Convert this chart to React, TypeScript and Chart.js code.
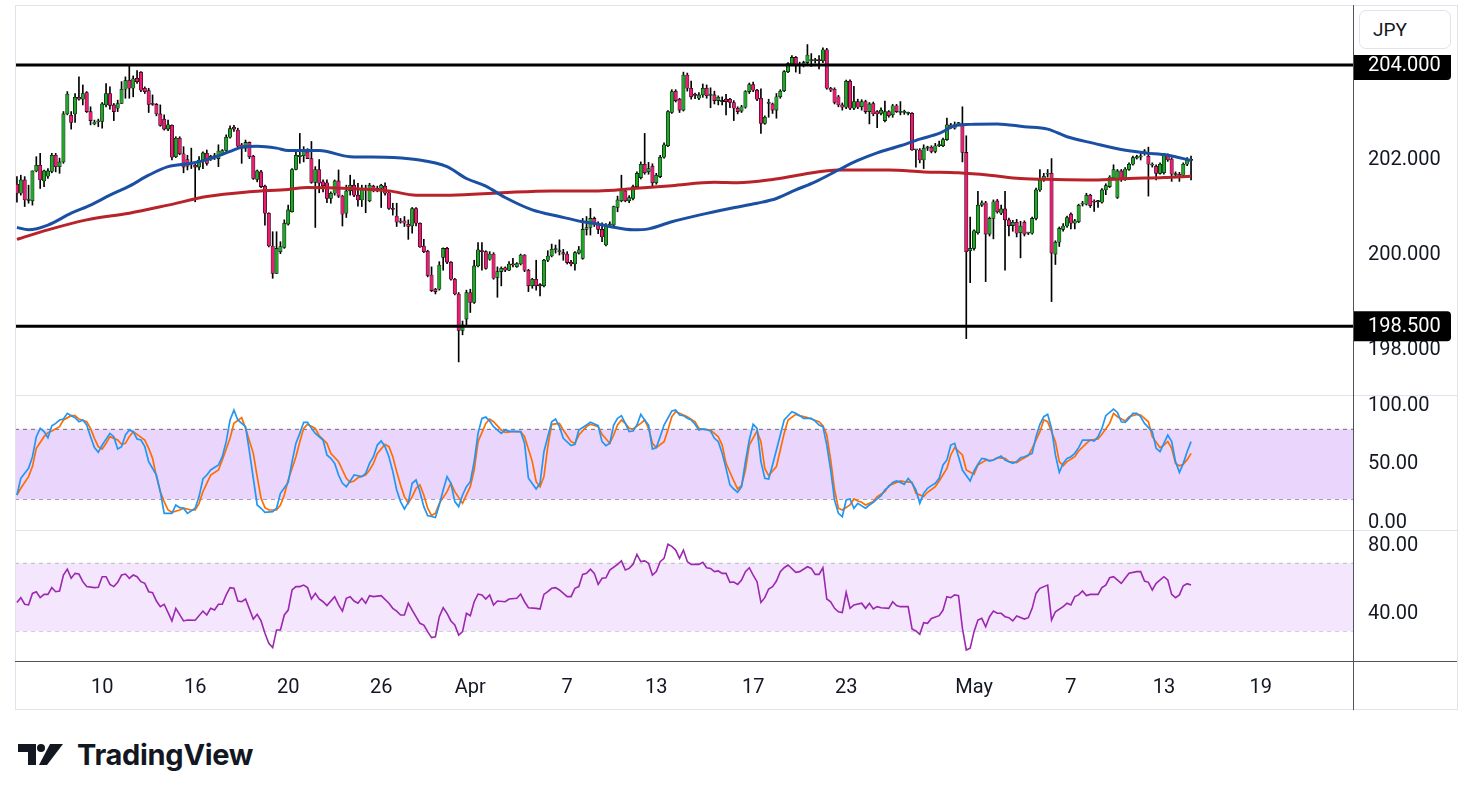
import React, { useEffect, useRef } from "react";
import { Chart, registerables } from "chart.js";

Chart.register(...registerables);
Chart.defaults.font.family = "Roboto";

// ---------- Price candles (4h) ----------
const opens = [
  201.49, 201.30, 201.58, 201.15, 201.14, 201.77, 201.89, 201.56, 201.66, 201.76,
  202.10, 201.86, 201.96, 202.97, 202.94, 202.97, 203.32, 203.28, 203.42, 203.02,
  202.76, 202.80, 202.81, 203.16, 203.40, 203.16, 203.09, 203.19, 203.49, 203.68,
  203.51, 203.72, 203.85, 203.51, 203.46, 203.18, 203.17, 202.97, 202.86, 202.65,
  202.73, 202.07, 202.46, 202.13, 202.01, 201.92, 201.89, 201.85, 202.00, 202.14,
  202.03, 202.07, 202.03, 202.14, 202.20, 202.48, 202.69, 202.63, 202.32, 202.25,
  202.37, 202.08, 201.59, 201.75, 201.45, 200.88, 200.19, 199.61, 200.07, 200.16,
  200.65, 200.91, 201.80, 202.07, 202.09, 202.17, 202.03, 201.53, 201.80, 201.54,
  201.52, 201.19, 201.30, 201.56, 201.24, 200.88, 201.35, 201.47, 201.26, 201.16,
  201.37, 201.14, 201.45, 201.40, 201.40, 201.45, 201.31, 200.98, 200.82, 200.70,
  200.72, 200.65, 200.61, 200.98, 200.67, 200.19, 200.08, 199.58, 199.28, 199.28,
  199.95, 200.14, 199.85, 199.49, 199.18, 198.41, 198.65, 199.21, 199.00, 199.77,
  200.09, 200.07, 199.91, 200.02, 199.53, 199.65, 199.73, 199.68, 199.81, 199.75,
  199.81, 200.00, 199.68, 199.35, 199.49, 199.37, 199.35, 199.89, 199.98, 200.11,
  200.07, 200.05, 200.02, 199.85, 199.81, 200.04, 199.93, 200.54, 200.58, 200.77,
  200.67, 200.54, 200.21, 200.63, 200.63, 201.00, 201.14, 201.35, 201.14, 201.19,
  201.44, 201.63, 201.91, 201.75, 201.87, 201.52, 201.65, 202.06, 202.30, 203.00,
  203.45, 203.28, 203.05, 203.79, 203.51, 203.37, 203.30, 203.37, 203.51, 203.36,
  203.37, 203.25, 203.23, 203.28, 203.28, 203.21, 203.09, 203.03, 203.11, 203.44,
  203.59, 203.47, 203.30, 202.77, 203.19, 203.18, 203.05, 203.33, 203.46, 203.86,
  204.02, 204.16, 204.00, 204.00, 204.05, 204.09, 204.09, 204.11, 204.09, 204.32,
  203.51, 203.49, 203.33, 203.16, 203.11, 203.66, 203.09, 203.23, 203.12, 203.23,
  203.02, 203.19, 203.02, 202.98, 202.83, 203.02, 202.95, 203.14, 203.00, 203.00,
  202.98, 202.98, 202.21, 202.21, 202.00, 202.25, 202.27, 202.18, 202.30, 202.30,
  202.43, 202.74, 202.67, 202.76, 202.76, 202.16, 200.09, 200.14, 200.47, 201.05,
  201.10, 200.44, 200.77, 201.14, 200.88, 200.97, 200.74, 200.62, 200.69, 200.47,
  200.69, 200.46, 200.46, 200.77, 201.37, 201.58, 201.70, 201.72, 200.02, 200.27,
  200.54, 200.61, 200.86, 200.67, 200.70, 201.07, 201.07, 201.26, 201.12, 201.12,
  201.11, 201.37, 201.44, 201.62, 201.21, 201.77, 201.59, 201.80, 201.91, 202.04,
  202.06, 202.17, 202.08, 201.89, 201.87, 201.72, 201.73, 202.10, 202.02, 201.69,
  201.70, 201.68, 201.91, 201.99,
];
const highs = [
  201.65, 201.68, 201.65, 201.47, 201.77, 202.07, 202.14, 201.79, 201.82, 202.14,
  202.14, 202.04, 203.02, 203.44, 203.02, 203.40, 203.75, 203.58, 203.44, 203.12,
  202.84, 202.86, 203.21, 203.61, 203.54, 203.19, 203.26, 203.65, 203.75, 203.98,
  203.77, 203.88, 203.86, 203.54, 203.51, 203.37, 203.19, 203.16, 202.95, 202.84,
  202.74, 202.49, 202.49, 202.28, 202.10, 202.25, 201.93, 202.07, 202.17, 202.21,
  202.10, 202.14, 202.32, 202.22, 202.53, 202.72, 202.73, 202.67, 202.35, 202.42,
  202.38, 202.10, 201.79, 201.78, 201.47, 200.89, 200.49, 200.49, 200.28, 200.74,
  201.05, 201.82, 202.21, 202.56, 202.28, 202.24, 202.39, 201.86, 202.01, 201.58,
  201.58, 201.33, 201.58, 201.79, 201.26, 201.47, 201.68, 201.58, 201.51, 201.47,
  201.47, 201.51, 201.47, 201.45, 201.49, 201.52, 201.33, 201.09, 201.09, 200.77,
  200.81, 200.74, 201.00, 201.00, 200.68, 200.33, 200.10, 199.75, 199.30, 199.86,
  200.15, 200.16, 199.86, 199.51, 199.21, 198.61, 199.26, 199.28, 199.89, 200.26,
  200.26, 200.09, 200.07, 200.05, 199.75, 199.75, 199.75, 199.86, 199.93, 199.84,
  200.02, 200.01, 199.70, 199.51, 199.89, 199.40, 199.91, 200.09, 200.23, 200.21,
  200.32, 200.12, 200.07, 199.89, 200.07, 200.18, 200.77, 200.81, 200.98, 200.80,
  200.70, 200.68, 200.66, 200.70, 201.03, 201.24, 201.68, 201.40, 201.25, 201.47,
  201.75, 201.96, 202.56, 201.95, 201.92, 201.72, 202.10, 202.36, 203.04, 203.48,
  203.48, 203.30, 203.85, 203.83, 203.66, 203.41, 203.42, 203.60, 203.58, 203.52,
  203.45, 203.35, 203.33, 203.38, 203.30, 203.25, 203.12, 203.15, 203.46, 203.62,
  203.64, 203.49, 203.50, 202.93, 203.28, 203.20, 203.40, 203.48, 203.88, 204.05,
  204.20, 204.18, 204.06, 204.08, 204.43, 204.24, 204.14, 204.20, 204.36, 204.35,
  203.53, 203.52, 203.36, 203.20, 203.68, 203.69, 203.55, 203.28, 203.27, 203.26,
  203.21, 203.22, 203.04, 203.10, 203.24, 203.04, 203.17, 203.17, 203.23, 203.05,
  203.01, 203.00, 202.22, 202.24, 202.32, 202.29, 202.30, 202.35, 202.40, 202.46,
  202.88, 202.77, 202.80, 202.79, 203.12, 202.51, 200.80, 200.53, 201.34, 201.14,
  201.13, 200.80, 201.16, 201.17, 201.05, 201.34, 200.78, 200.73, 200.75, 200.71,
  200.72, 200.48, 200.80, 201.41, 201.80, 201.72, 201.80, 202.03, 200.30, 200.59,
  200.66, 200.82, 200.89, 200.75, 201.07, 201.13, 201.30, 201.28, 201.16, 201.15,
  201.40, 201.50, 201.67, 201.90, 201.80, 201.80, 201.84, 201.94, 202.08, 202.10,
  202.18, 202.22, 202.27, 201.94, 201.90, 201.94, 202.14, 202.13, 202.05, 201.75,
  201.74, 201.94, 202.05, 202.08,
];
const lows = [
  201.11, 201.26, 201.02, 201.09, 201.05, 201.75, 201.40, 201.44, 201.61, 201.73,
  201.75, 201.72, 201.93, 202.95, 202.65, 202.79, 203.26, 203.16, 203.00, 202.74,
  202.74, 202.70, 202.67, 203.12, 203.07, 202.83, 203.02, 203.19, 203.30, 203.30,
  203.33, 203.61, 203.44, 203.40, 203.00, 203.15, 202.93, 202.71, 202.63, 202.62,
  202.00, 202.05, 202.11, 201.73, 201.79, 201.82, 201.12, 201.79, 201.82, 201.89,
  201.99, 202.01, 201.86, 202.10, 202.18, 202.46, 202.60, 202.24, 201.93, 202.18,
  202.03, 201.59, 201.54, 201.42, 200.63, 200.17, 199.51, 199.61, 200.03, 200.14,
  200.63, 200.90, 201.79, 201.93, 201.96, 202.03, 201.51, 200.58, 201.31, 201.33,
  201.10, 201.09, 201.26, 201.21, 200.61, 200.79, 201.26, 201.23, 201.03, 201.02,
  200.89, 201.12, 201.33, 201.33, 201.00, 201.26, 200.96, 200.84, 200.60, 200.67,
  200.60, 200.33, 200.46, 200.61, 200.16, 200.05, 199.54, 199.23, 199.18, 199.26,
  199.68, 199.82, 199.47, 199.16, 197.75, 198.32, 198.53, 198.79, 198.98, 199.75,
  199.68, 199.70, 199.89, 199.49, 199.11, 199.35, 199.65, 199.67, 199.75, 199.74,
  199.79, 199.65, 199.23, 199.30, 199.26, 199.14, 199.33, 199.86, 199.96, 200.04,
  200.00, 199.89, 199.81, 199.77, 199.68, 200.02, 199.91, 200.42, 200.42, 200.60,
  200.45, 200.28, 200.19, 200.60, 200.61, 200.91, 201.12, 201.12, 201.10, 201.16,
  201.42, 201.60, 201.70, 201.70, 201.45, 201.49, 201.63, 202.04, 202.28, 202.98,
  203.22, 203.00, 203.03, 203.45, 203.28, 203.29, 203.27, 203.32, 203.30, 203.10,
  203.18, 203.16, 203.16, 202.95, 203.10, 202.83, 202.97, 203.00, 203.09, 203.40,
  203.44, 203.25, 202.56, 202.75, 202.90, 202.98, 202.88, 203.30, 203.44, 203.84,
  204.00, 203.85, 203.82, 203.96, 204.02, 203.97, 204.04, 203.92, 204.05, 203.49,
  203.44, 203.18, 203.12, 203.05, 203.08, 203.06, 203.06, 203.08, 203.05, 202.98,
  202.76, 202.93, 202.68, 202.95, 202.80, 202.90, 202.90, 203.00, 202.95, 202.96,
  202.95, 202.20, 201.85, 201.94, 201.82, 202.20, 202.15, 202.15, 202.28, 202.28,
  202.41, 202.66, 202.65, 202.73, 201.96, 198.24, 199.42, 200.10, 200.44, 201.02,
  199.44, 200.40, 200.34, 200.88, 200.85, 199.68, 200.40, 200.50, 200.38, 199.94,
  200.40, 200.43, 200.44, 200.74, 201.34, 201.55, 201.64, 199.02, 199.80, 200.18,
  200.50, 200.58, 200.55, 200.55, 200.68, 201.03, 201.05, 201.00, 200.92, 201.00,
  201.09, 201.27, 201.42, 201.60, 201.19, 201.55, 201.57, 201.78, 201.89, 202.02,
  202.00, 202.10, 201.24, 201.85, 201.58, 201.70, 201.70, 201.97, 201.55, 201.63,
  201.55, 201.65, 201.88, 201.58,
];
const closes = [
  201.30, 201.58, 201.16, 201.16, 201.77, 201.89, 201.58, 201.77, 201.77, 202.10,
  201.86, 201.96, 202.97, 203.39, 202.79, 203.32, 203.28, 203.40, 203.02, 202.83,
  202.80, 202.81, 203.18, 203.40, 203.15, 203.02, 203.19, 203.49, 203.67, 203.51,
  203.71, 203.65, 203.47, 203.44, 203.17, 203.17, 202.97, 202.73, 202.65, 202.74,
  202.06, 202.46, 202.13, 201.85, 201.87, 201.91, 201.85, 202.00, 202.15, 201.93,
  202.08, 202.07, 202.19, 202.20, 202.48, 202.66, 202.65, 202.29, 202.25, 202.37,
  202.07, 201.61, 201.77, 201.44, 200.88, 200.19, 199.61, 200.14, 200.18, 200.67,
  200.95, 201.80, 202.10, 202.10, 202.21, 202.03, 201.53, 201.80, 201.51, 201.46,
  201.19, 201.30, 201.56, 201.24, 200.86, 201.35, 201.47, 201.26, 201.16, 201.39,
  201.39, 201.47, 201.37, 201.38, 201.47, 201.30, 200.98, 200.96, 200.69, 200.69,
  200.67, 200.60, 200.98, 200.67, 200.17, 200.07, 199.57, 199.25, 199.23, 199.79,
  200.14, 199.85, 199.49, 199.18, 198.41, 198.53, 199.21, 199.00, 199.77, 200.11,
  200.07, 199.72, 200.02, 199.51, 199.65, 199.72, 199.68, 199.81, 199.79, 199.82,
  200.00, 199.68, 199.35, 199.49, 199.35, 199.35, 199.89, 199.98, 200.12, 200.12,
  200.09, 200.02, 199.84, 199.81, 200.05, 200.11, 200.54, 200.58, 200.77, 200.65,
  200.54, 200.38, 200.63, 200.65, 201.02, 201.16, 201.37, 201.14, 201.21, 201.44,
  201.72, 201.91, 201.73, 201.82, 201.52, 201.68, 202.06, 202.32, 203.02, 203.44,
  203.25, 203.05, 203.79, 203.51, 203.33, 203.36, 203.37, 203.51, 203.35, 203.37,
  203.25, 203.32, 203.24, 203.23, 203.21, 203.09, 203.02, 203.12, 203.44, 203.59,
  203.47, 203.28, 202.77, 202.90, 203.20, 203.05, 203.33, 203.45, 203.86, 204.03,
  204.16, 203.98, 204.01, 204.05, 204.21, 204.10, 204.09, 204.09, 204.32, 203.51,
  203.47, 203.21, 203.16, 203.11, 203.66, 203.09, 203.23, 203.11, 203.23, 203.02,
  203.18, 202.97, 202.97, 203.05, 203.02, 202.93, 203.14, 203.02, 203.00, 203.00,
  202.98, 202.21, 202.21, 202.00, 202.25, 202.25, 202.18, 202.30, 202.32, 202.43,
  202.74, 202.69, 202.74, 202.76, 202.16, 200.07, 200.14, 200.51, 201.05, 201.10,
  200.44, 200.77, 201.12, 200.91, 200.97, 200.74, 200.62, 200.69, 200.46, 200.61,
  200.44, 200.46, 200.77, 201.37, 201.58, 201.66, 201.72, 200.04, 200.27, 200.56,
  200.61, 200.79, 200.67, 200.72, 201.05, 201.08, 201.26, 201.04, 201.11, 201.13,
  201.37, 201.46, 201.64, 201.80, 201.77, 201.59, 201.81, 201.91, 202.05, 202.07,
  202.07, 202.18, 201.91, 201.89, 201.72, 201.91, 202.10, 202.00, 201.70, 201.70,
  201.63, 201.91, 202.00, 202.00,
];

// ---------- Moving averages (sampled along the candles) ----------
const fastMaX = [0, 3, 8, 14, 19, 24, 29, 34, 39, 45, 50, 55, 58, 62, 67, 70, 73, 78, 86, 95, 103, 111, 116, 121, 126, 133, 140, 146, 150, 153, 159, 163, 169, 176, 184, 191, 196, 201, 206, 212, 217, 222, 228, 233, 238, 242, 246, 253, 260, 266, 271, 278, 285, 291, 297, 303];
const fastMaY = [200.58, 200.53, 200.63, 200.88, 201.05, 201.26, 201.45, 201.68, 201.86, 201.93, 202.03, 202.18, 202.27, 202.29, 202.25, 202.20, 202.20, 202.20, 202.07, 202.06, 202.01, 201.86, 201.61, 201.45, 201.21, 200.95, 200.81, 200.70, 200.65, 200.60, 200.53, 200.55, 200.70, 200.84, 200.98, 201.09, 201.19, 201.37, 201.54, 201.79, 201.99, 202.15, 202.30, 202.44, 202.56, 202.72, 202.75, 202.76, 202.70, 202.65, 202.49, 202.35, 202.22, 202.15, 202.10, 201.99];
const slowMaX = [0, 8, 18, 29, 39, 49, 60, 70, 75, 86, 96, 103, 112, 125, 138, 150, 159, 169, 180, 186, 195, 203, 212, 216, 225, 234, 243, 251, 259, 268, 278, 287, 296, 303];
const slowMaY = [200.33, 200.53, 200.74, 200.88, 201.05, 201.23, 201.33, 201.38, 201.42, 201.40, 201.35, 201.26, 201.26, 201.31, 201.35, 201.35, 201.40, 201.46, 201.53, 201.52, 201.59, 201.70, 201.79, 201.79, 201.79, 201.75, 201.73, 201.68, 201.61, 201.59, 201.58, 201.61, 201.63, 201.66];

const levelValues = [204, 198.5];
const priceTicks = [198, 200, 202, 204];

// ---------- Stochastic ----------
const stochK = [
  23.7, 38.0, 42.3, 46.5, 56.5, 73.7, 80.8, 78.0, 72.8, 83.1,
  85.1, 88.0, 88.8, 93.7, 91.7, 90.0, 86.5, 88.0, 83.7, 73.7,
  64.3, 60.3, 66.5, null, 76.5, 73.7, 63.1, 65.1, 75.1, 79.4,
  78.0, 71.7, 70.8, 65.1, 52.3, null, 40.8, 26.5, 7.9, null,
  7.9, 15.1, 12.8, 12.3, 7.9, null, 12.3, 22.3, 37.4, 40.8,
  45.1, null, 49.4, 56.5, 69.4, 88.0, 96.5, 88.0, null, 82.3,
  60.8, 38.0, 15.1, 12.3, 8.8, null, 9.4, 12.3, 25.1, null,
  34.5, 52.3, 68.0, 76.5, 86.0, 86.0, 80.8, 76.5, null, 70.8,
  58.0, 55.1, 50.8, 40.8, 33.7, 30.8, 35.7, 40.8, null, 39.4,
  42.3, 50.8, 56.5, 66.5, 70.0, 65.1, 56.5, 43.7, 28.0, 18.0,
  11.7, 17.4, 33.7, 36.5, 26.5, 13.7, 6.0, null, 4.3, 15.1,
  28.0, 39.4, 33.7, 18.0, 13.7, 23.7, 30.8, 35.1, 52.3, 76.5,
  89.4, 90.5, 87.1, 82.3, null, 76.5, 79.4, 78.5, null, 78.0,
  78.0, 68.0, 38.0, null, 28.8, 33.7, 60.8, null, 86.5, 88.8,
  82.3, 72.3, null, 66.0, 67.1, 79.4, null, 83.7, 86.0, null,
  83.1, 69.4, 66.0, 68.0, 83.7, 89.4, 91.7, 85.1, 78.0, 78.5,
  83.7, 92.8, 88.0, 83.7, 63.1, 64.3, 73.7, 83.7, null, 95.7,
  96.5, 92.3, 91.7, 89.4, 88.0, 84.3, 79.4, 80.3, 79.7, 78.5,
  72.3, 69.4, 59.4, 46.5, 32.3, 28.8, 26.0, 30.8, 52.3, 70.8,
  84.3, 80.8, 52.3, 38.0, 37.4, 49.4, 62.3, 75.1, 88.0, null,
  95.1, 93.7, 91.7, 89.4, null, 89.4, 87.1, 83.7, 82.3, 66.5,
  45.1, 19.4, 8.0, 5.1, 19.4, 20.3, 12.3, 16.5, null, 12.3,
  15.1, 17.4, 20.3, 23.1, 28.0, 30.8, 34.5, 35.7, 34.5, 32.8,
  37.9, 33.7, 28.0, 16.5, 25.1, 29.4, 31.7, 33.7, 38.0, 49.4,
  53.7, 66.5, 68.0, 56.5, 45.1, null, 35.7, 44.3, 50.0, 55.1,
  54.5, 52.8, 53.7, null, 57.1, 53.7, null, 50.8, 52.3, 55.7,
  56.5, null, 59.4, 73.7, 84.3, 90.8, 92.8, 80.8, 58.0, 43.1,
  50.8, 55.1, 56.5, 59.4, 64.3, 70.8, null, 70.8, 70.0, 73.7,
  80.8, 91.7, null, 97.4, 94.5, 86.5, 86.0, 89.4, 93.7, 93.7,
  90.8, 85.1, null, 78.0, 63.7, 60.8, 68.0, 75.1, 69.4, 52.3,
  43.1, 50.8, 60.8, 69.4,
];
const stochD = [
  23.7, 29.4, null, 39.4, 48.0, 63.7, null, 73.7, 77.1, 78.5,
  null, 82.3, 88.0, null, 91.7, 91.7, 88.8, null, 86.5, 80.8,
  72.3, 65.1, 63.1, 68.0, 73.7, null, 70.8, 67.1, 68.0, 73.7,
  78.0, 75.7, null, 70.8, 63.7, 55.1, 39.4, 26.5, 18.0, 10.8,
  8.8, null, 10.8, 12.3, null, 10.8, 10.8, 16.5, 26.5, 33.7,
  40.8, null, 45.1, 53.7, null, 72.3, 85.1, null, 90.0, 80.8,
  null, 59.4, 39.4, 20.8, 12.8, 10.8, null, 10.8, 15.1, 23.7,
  36.5, null, 56.5, 69.4, 80.8, 84.3, null, 80.8, 74.5, null,
  68.0, 59.4, null, 52.3, 45.1, 38.0, 34.5, 35.7, 38.5, null,
  40.8, 45.1, 50.8, 59.4, null, 67.1, 65.1, 56.5, 43.7, 32.3,
  22.3, 16.5, 22.3, 29.4, 32.3, 23.7, 12.3, 6.0, 8.0, 16.5,
  null, 26.5, 33.7, 26.5, null, 16.5, 23.7, 30.8, 45.1, 69.4,
  null, 85.1, 88.8, 86.5, null, 79.4, 77.4, null, 78.0, null,
  78.0, 73.7, null, 52.3, 35.1, 30.8, 39.4, 65.1, 84.3, null,
  85.1, 79.4, null, 69.4, 68.0, 75.1, null, 82.3, 84.3, null,
  82.3, 75.7, null, 68.0, 75.1, 83.7, 88.0, 85.1, 80.8, 80.3,
  null, 85.1, 88.0, 80.8, 68.0, 64.3, null, 69.4, 79.4, 90.8,
  95.1, 93.7, null, 90.8, null, 86.5, 80.8, 80.0, null, 79.4,
  null, 73.7, 66.5, 50.8, null, 35.7, 28.8, 31.7, 45.1, 66.5,
  null, 78.5, 69.4, 46.5, 40.3, null, 48.0, 62.3, 76.5, 88.0,
  null, 92.8, 91.7, null, 90.0, 88.8, null, 86.5, 83.1, 75.1,
  53.7, 28.0, 12.3, 10.8, null, 15.1, 20.3, 18.5, 17.4, 15.1,
  null, 18.0, 22.3, null, 26.5, 31.7, null, 34.5, 35.7, 35.1,
  null, 34.5, 25.1, null, 22.3, 26.0, null, 30.8, 35.7, null,
  46.5, 58.0, 64.3, null, 58.0, 45.1, null, 41.4, 49.4, null,
  53.4, null, 53.7, 55.7, null, 55.1, 52.3, null, 51.4, 53.7,
  null, 57.4, 63.7, null, 78.0, 88.0, 86.5, null, 69.4, 52.3,
  48.8, 52.3, null, 56.5, 61.4, null, 68.0, 70.8, null, 71.7,
  75.7, null, 85.1, 93.7, 90.8, null, 87.1, 90.8, null, 92.8,
  92.3, null, 86.5, 73.7, null, 64.3, 66.5, 69.4, 63.7, 50.8,
  48.8, 50.0, 54.0, 59.4,
];
const stochTicks = [0, 50, 100];
const stochBand = [80, 20];

// ---------- RSI ----------
const rsi = [
  47.0, 49.8, 45.9, 45.5, 52.3, 53.3, 49.8, 51.7, 51.7, 55.7,
  53.3, 53.7, 63.1, 66.6, 61.2, 64.1, 63.7, 59.2, 56.3, null,
  55.7, 55.9, 62.1, 62.1, 57.6, 56.3, 58.8, 63.1, 63.7, 61.2,
  63.1, 62.1, 59.2, 58.2, 53.3, 52.7, 47.8, 44.5, 45.9, null,
  36.1, 43.5, null, 36.1, 36.6, null, 36.5, null, 41.9, 39.6,
  43.5, 42.5, 45.9, 45.9, 51.4, 55.7, 55.3, 47.8, 47.4, 49.0,
  null, 37.2, 40.0, 36.1, 28.8, 22.9, 20.4, 30.8, 30.8, 39.6,
  42.5, 54.3, 56.3, 56.3, 57.2, 55.7, 49.0, 52.3, 49.0, 47.4,
  45.1, null, 50.4, 45.5, 41.9, 49.4, 50.4, 47.8, 46.5, 49.4,
  46.5, 51.0, 50.4, null, 51.0, null, 46.5, 43.5, 41.9, 39.6,
  39.6, 46.5, 42.5, null, 34.7, 33.7, 29.8, 26.3, 26.8, 38.6,
  43.9, 40.6, 36.1, 33.7, 27.8, 29.8, 40.6, 39.2, 47.4, 51.9,
  51.4, 49.0, 51.4, 45.5, 47.8, null, 47.4, 49.0, null, 49.4,
  51.9, 47.4, 43.9, null, 43.5, 43.1, 51.7, 53.3, 55.3, 55.7,
  54.3, null, 50.4, 50.4, 55.3, 56.3, 63.5, 64.1, 66.6, 64.1,
  57.6, 61.2, 61.5, 66.0, null, 69.4, 71.4, 66.1, 67.0, 69.4,
  75.3, 71.0, 71.4, 70.0, 63.1, 65.1, 71.0, 72.9, 81.2, 80.0,
  77.8, 72.9, 77.8, 71.0, 69.4, null, 69.4, 70.6, 67.4, 67.0,
  65.1, 65.5, 64.1, 64.1, 58.8, 59.0, 57.6, 60.2, 65.1, 67.4,
  63.1, 59.2, 47.0, 49.8, 54.9, 56.3, 59.6, 65.1, 67.4, 69.0,
  null, 64.7, 65.1, null, 68.0, 67.0, 63.5, 63.5, 67.4, 49.0,
  47.4, 43.5, 41.5, 41.0, 52.9, 43.5, 45.5, null, 46.5, 43.5,
  46.5, 43.1, 44.5, 43.9, null, 43.5, 47.4, 45.1, 44.5, null,
  44.5, 31.4, 30.2, 28.2, 35.1, 34.7, 37.6, null, 39.2, 42.5,
  50.4, 49.8, 51.4, 51.0, 31.7, 19.0, 20.0, 29.8, 36.6, 37.6,
  32.7, 38.6, 41.9, 40.6, 40.6, 38.6, 38.0, 36.1, 39.0, null,
  37.2, 38.0, 43.5, 52.3, 55.3, null, 57.2, 36.6, 41.5, null,
  44.5, 46.5, 45.5, 50.4, 51.4, 53.7, 51.0, 51.7, null, 51.7,
  55.7, 57.2, 61.5, 62.1, null, 58.2, 61.2, 64.1, null, 65.1,
  65.1, 59.6, 58.8, 54.3, 58.2, null, 62.1, 60.2, 51.7, 49.8,
  51.4, 56.8, 58.0, 57.2,
];
const rsiTicks = [40, 80];
const rsiBand = [70, 30];

// ---------- Time axis ----------
const xTickIdx = [22, 46, 70, 94, 117, 142, 165, 190, 214, 247, 272, 296, 321];
const xTickLabels = ["10", "16", "20", "26", "Apr", "7", "13", "17", "23", "May", "7", "13", "19"];
const currency = "JPY";

// ---------- styling ----------
const X_MIN = -0.5;
const X_MAX = 344.8;
const AXIS_W = 104;
const TEXT = "#131722";
const UP = "#22a62a";
const DOWN = "#e91e72";
const FONT = { family: "Roboto", size: 20 };

const xScale = (display: boolean) => ({
  type: "linear",
  min: X_MIN,
  max: X_MAX,
  offset: false,
  display,
  grid: { display: false, drawTicks: false },
  border: { display: false },
  ticks: {
    autoSkip: false,
    maxRotation: 0,
    padding: 14,
    color: TEXT,
    font: FONT,
    callback: (_v: any, i: number) => xTickLabels[i],
  },
  afterBuildTicks: (s: any) => {
    s.ticks = xTickIdx.map((v) => ({ value: v }));
  },
  afterFit: (s: any) => {
    s.paddingLeft = 0;
    s.paddingRight = 0;
    if (display) s.height = 48;
  },
});

const yScale = (min: number, max: number, ticks: number[], digits: number) => ({
  type: "linear",
  position: "right",
  min,
  max,
  grid: { display: false, drawTicks: false },
  border: { display: false },
  ticks: {
    padding: 15,
    color: TEXT,
    font: FONT,
    callback: (v: any) => Number(v).toFixed(digits),
  },
  afterBuildTicks: (s: any) => {
    s.ticks = ticks.map((v) => ({ value: v }));
  },
  afterFit: (s: any) => {
    s.width = AXIS_W;
    s.paddingTop = 0;
    s.paddingBottom = 0;
  },
});

const levelLabelPlugin = {
  id: "levelLabels",
  afterDraw(chart: any) {
    const { ctx, chartArea, scales } = chart;
    levelValues.forEach((v) => {
      const py = scales.y.getPixelForValue(v);
      const x0 = chartArea.right;
      ctx.save();
      ctx.fillStyle = "#000";
      ctx.beginPath();
      ctx.roundRect(x0, py - 15, 98, 30, [0, 4, 4, 0]);
      ctx.fill();
      ctx.fillStyle = "#fff";
      ctx.font = "20px Roboto";
      ctx.textBaseline = "middle";
      ctx.textAlign = "left";
      ctx.fillText(v.toFixed(3), x0 + 15, py + 1);
      ctx.restore();
    });
  },
};

const hLine = (value: number, color: string, width: number, dash: number[], order: number, extra: any = {}) => ({
  type: "line",
  data: [
    { x: X_MIN, y: value },
    { x: X_MAX, y: value },
  ],
  borderColor: color,
  borderWidth: width,
  borderDash: dash,
  pointRadius: 0,
  order,
  ...extra,
});

const series = (vals: (number | null)[], color: string, width: number, order: number) => ({
  type: "line",
  data: vals.map((v, i) => ({ x: i, y: v })),
  borderColor: color,
  borderWidth: width,
  pointRadius: 0,
  spanGaps: true,
  order,
});

const baseOptions = {
  responsive: true,
  maintainAspectRatio: false,
  animation: false,
  events: [],
  layout: { padding: 0 },
  plugins: { legend: { display: false }, tooltip: { enabled: false } },
};

export default function App() {
  const priceRef = useRef<HTMLCanvasElement>(null);
  const stochRef = useRef<HTMLCanvasElement>(null);
  const rsiRef = useRef<HTMLCanvasElement>(null);

  useEffect(() => {
    const idx = closes.map((_, i) => i);
    const charts: Chart[] = [];

    charts.push(
      new Chart(priceRef.current as HTMLCanvasElement, {
        type: "bar",
        data: {
          datasets: [
            ...levelValues.map((v) => hLine(v, "#000", 3, [], 0)),
            {
              type: "line",
              data: fastMaX.map((x, i) => ({ x, y: fastMaY[i] })),
              borderColor: "#1b4fa3",
              borderWidth: 3,
              pointRadius: 0,
              cubicInterpolationMode: "monotone",
              order: 1,
            },
            {
              type: "line",
              data: slowMaX.map((x, i) => ({ x, y: slowMaY[i] })),
              borderColor: "#b8222a",
              borderWidth: 3,
              pointRadius: 0,
              cubicInterpolationMode: "monotone",
              order: 1,
            },
            {
              type: "bar",
              data: idx.map((i) => ({ x: i, y: [opens[i], closes[i]] })),
              backgroundColor: idx.map((i) => (closes[i] >= opens[i] ? UP : DOWN)),
              borderColor: "#000",
              borderWidth: 0.6,
              borderSkipped: false,
              barThickness: 3.4,
              minBarLength: 1.2,
              grouped: false,
              order: 2,
            },
            {
              type: "bar",
              data: idx.map((i) => ({ x: i, y: [lows[i], highs[i]] })),
              backgroundColor: "#000",
              barThickness: 1,
              grouped: false,
              order: 3,
            },
          ] as any,
        },
        options: {
          ...baseOptions,
          scales: {
            x: xScale(false),
            y: yScale(197.053, 205.263, priceTicks, 3),
          },
        } as any,
        plugins: [levelLabelPlugin],
      })
    );

    charts.push(
      new Chart(stochRef.current as HTMLCanvasElement, {
        type: "line",
        data: {
          datasets: [
            hLine(stochBand[0], "#6a6d78", 1, [4, 4], 3, { fill: "+1", backgroundColor: "rgb(234,213,252)" }),
            hLine(stochBand[1], "#6a6d78", 1, [4, 4], 3),
            series(stochD, "#ff6d00", 1.7, 1),
            series(stochK, "#2196f3", 1.7, 0),
          ] as any,
        },
        options: {
          ...baseOptions,
          scales: {
            x: xScale(false),
            y: yScale(-6.35, 109.43, stochTicks, 2),
          },
        } as any,
      })
    );

    charts.push(
      new Chart(rsiRef.current as HTMLCanvasElement, {
        type: "line",
        data: {
          datasets: [
            hLine(rsiBand[0], "#b9bbc2", 1, [4, 4], 3, { fill: "+1", backgroundColor: "rgb(244,230,253)" }),
            hLine(rsiBand[1], "#b9bbc2", 1, [4, 4], 3),
            series(rsi, "#9c27b0", 1.6, 0),
          ] as any,
        },
        options: {
          ...baseOptions,
          scales: {
            x: xScale(true),
            y: yScale(11.94, 89.6, rsiTicks, 2),
          },
        } as any,
      })
    );

    return () => charts.forEach((c) => c.destroy());
  }, []);

  const abs = (s: React.CSSProperties): React.CSSProperties => ({ position: "absolute", ...s });
  const light = "#e0e3eb";
  const dark = "#50535e";

  return (
    <div style={{ position: "fixed", left: 0, top: 0, width: 1473, height: 800, background: "#fff", overflow: "hidden" }}>
      <div style={abs({ left: 15, top: 5, width: 1442, height: 390 })}>
        <canvas ref={priceRef} />
      </div>
      <div style={abs({ left: 15, top: 395, width: 1442, height: 135 })}>
        <canvas ref={stochRef} />
      </div>
      <div style={abs({ left: 15, top: 530, width: 1442, height: 180 })}>
        <canvas ref={rsiRef} />
      </div>

      {/* frame & separators */}
      <div style={abs({ left: 15, top: 5, width: 1443, height: 705, border: `1px solid ${light}`, boxSizing: "border-box", pointerEvents: "none" })} />
      <div style={abs({ left: 15, top: 395, width: 1442, height: 1, background: light })} />
      <div style={abs({ left: 15, top: 530, width: 1442, height: 1, background: light })} />
      <div style={abs({ left: 15, top: 661, width: 1442, height: 1, background: dark })} />
      <div style={abs({ left: 1353, top: 5, width: 1, height: 705, background: dark })} />

      {/* currency box */}
      <div style={abs({ left: 1354, top: 6, width: 103, height: 49, background: "#fff" })}>
        <div
          style={abs({
            left: 5,
            top: 4,
            width: 92,
            height: 39,
            border: `1px solid ${light}`,
            borderRadius: 7,
            boxSizing: "border-box",
            fontFamily: "Roboto",
            fontSize: 19,
            color: TEXT,
            lineHeight: "37px",
            paddingLeft: 13,
          })}
        >
          {currency}
        </div>
      </div>

      {/* TradingView logo */}
      <svg style={abs({ left: 18, top: 744 })} width={46} height={22} viewBox="0 0 46 22">
        <path d="M0 0 H18 V21 H10 V8 H0 Z" fill="#131722" />
        <circle cx={23} cy={4} r={4} fill="#131722" />
        <path d="M32 0 H45 L29 21 H21 Z" fill="#131722" />
      </svg>
      <div
        style={abs({
          left: 77,
          top: 740,
          fontFamily: "Inter",
          fontWeight: 700,
          fontSize: 29,
          lineHeight: "29px",
          color: "#131722",
          letterSpacing: -0.3,
        })}
      >
        TradingView
      </div>
    </div>
  );
}
